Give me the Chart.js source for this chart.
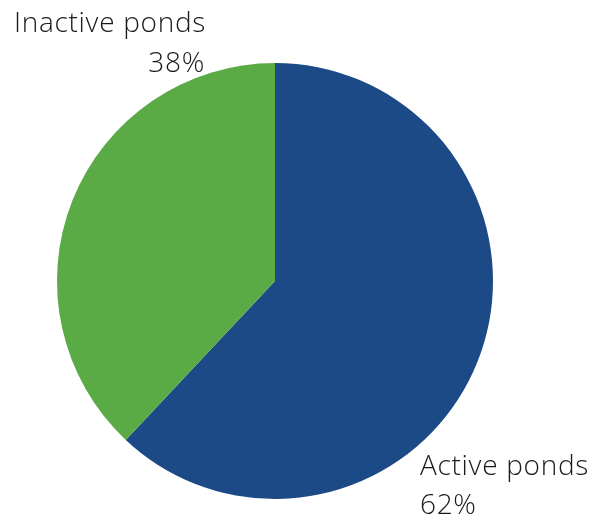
<!DOCTYPE html>
<html>
<head>
    <title>Pond activity</title>
    <script src="https://cdn.jsdelivr.net/npm/chart.js"></script>
    <style>
        html, body { margin: 0; padding: 0; background: #ffffff; }
        #wrap { width: 605px; height: 521px; }
    </style>
</head>
<body>
<div id="wrap"><canvas id="pondChart" width="605" height="521"></canvas></div>
<script>
    const categories = ['Active ponds', 'Inactive ponds'];
    const shares = [62, 38];
    const colors = ['#1c4a86', '#5aaa46'];

    // text beside each slice: [x, baseline of name, align]
    const labelSpots = [
        { x: 420, y: 475, align: 'left' },
        { x: 205, y: 32, align: 'right' }
    ];

    const sliceLabels = {
        id: 'sliceLabels',
        afterDraw(chart) {
            const ctx = chart.ctx;
            ctx.save();
            ctx.fillStyle = '#1a1a1a';
            ctx.font = '300 28px "Open Sans", "Noto Sans", sans-serif';
            ctx.letterSpacing = '0.7px';
            ctx.textBaseline = 'alphabetic';
            categories.forEach((name, i) => {
                const s = labelSpots[i];
                const pct = shares[i] + '%';
                if (s.align === 'right') {
                    // name starts at the left edge, percent right-aligned under it
                    ctx.textAlign = 'left';
                    ctx.fillText(name, 14, s.y);
                    ctx.textAlign = 'right';
                    ctx.fillText(pct, s.x, s.y + 40);
                } else {
                    ctx.textAlign = 'left';
                    ctx.fillText(name, s.x, s.y);
                    ctx.fillText(pct, s.x, s.y + 39);
                }
            });
            ctx.restore();
        }
    };

    new Chart(document.getElementById('pondChart'), {
        type: 'pie',
        data: {
            labels: categories,
            datasets: [{
                data: shares,
                backgroundColor: colors,
                borderWidth: 0
            }]
        },
        options: {
            responsive: false,
            animation: false,
            layout: { padding: { left: 57, right: 112, top: 63, bottom: 22 } },
            plugins: {
                legend: { display: false },
                tooltip: { enabled: false }
            }
        },
        plugins: [sliceLabels]
    });
</script>
</body>
</html>
